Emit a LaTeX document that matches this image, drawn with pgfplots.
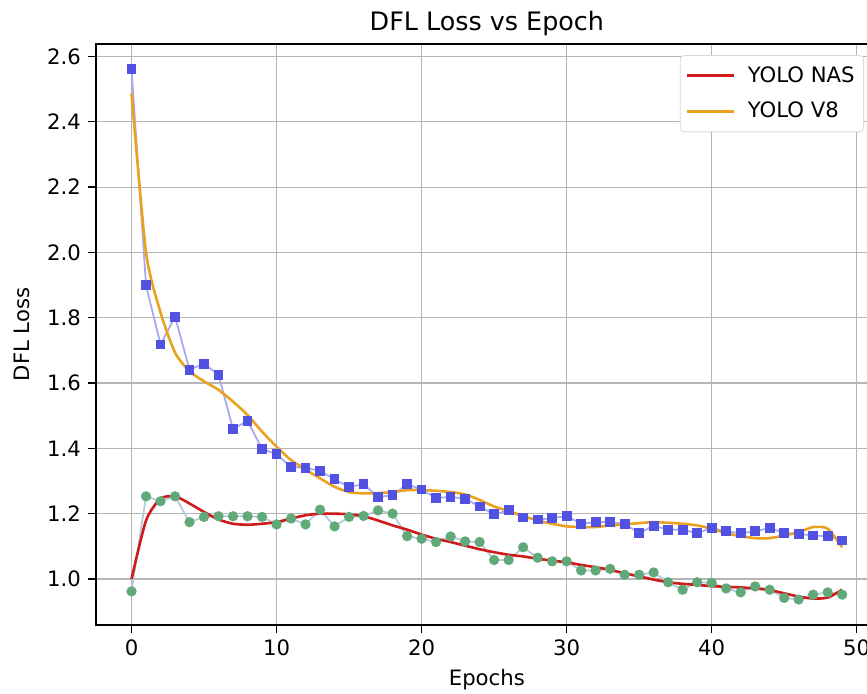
\documentclass[border=0pt]{standalone}
\usepackage{fontspec}
\setmainfont{DejaVu Sans}
\usepackage{pgfplots}
\pgfplotsset{compat=1.18}
\definecolor{bline}{HTML}{A9A9F2}
\definecolor{bmark}{HTML}{5252E2}
\definecolor{gline}{HTML}{B4CCD8}
\definecolor{gmark}{HTML}{62A97A}
\definecolor{nasred}{HTML}{D01A1A}
\definecolor{v8orange}{HTML}{EAA21E}

% raw points
\pgfplotstableread{
e v8 nas
0 2.562 0.962
1 1.899 1.253
2 1.718 1.238
3 1.803 1.253
4 1.641 1.174
5 1.659 1.190
6 1.625 1.192
7 1.459 1.192
8 1.484 1.192
9 1.398 1.190
10 1.382 1.167
11 1.343 1.185
12 1.340 1.167
13 1.331 1.212
14 1.305 1.161
15 1.282 1.190
16 1.290 1.193
17 1.251 1.210
18 1.256 1.200
19 1.290 1.131
20 1.274 1.123
21 1.248 1.113
22 1.251 1.130
23 1.246 1.115
24 1.222 1.113
25 1.198 1.058
26 1.210 1.058
27 1.188 1.097
28 1.182 1.065
29 1.186 1.054
30 1.193 1.054
31 1.169 1.026
32 1.174 1.026
33 1.174 1.031
34 1.169 1.013
35 1.140 1.013
36 1.163 1.020
37 1.151 0.990
38 1.151 0.967
39 1.140 0.990
40 1.156 0.988
41 1.146 0.971
42 1.140 0.959
43 1.146 0.977
44 1.156 0.967
45 1.141 0.942
46 1.138 0.937
47 1.133 0.952
48 1.131 0.959
49 1.118 0.952
}\rawtab

% smoothed curves
\pgfplotstableread{
e v8 nas
0 2.487 1.000
1 2.000 1.179
2 1.816 1.246
3 1.693 1.253
4 1.636 1.231
5 1.605 1.205
6 1.579 1.182
7 1.543 1.169
8 1.502 1.166
9 1.451 1.169
10 1.405 1.174
11 1.364 1.185
12 1.335 1.195
13 1.308 1.200
14 1.282 1.200
15 1.266 1.198
16 1.262 1.192
17 1.263 1.179
18 1.266 1.164
19 1.272 1.151
20 1.272 1.136
21 1.270 1.123
22 1.266 1.113
23 1.259 1.102
24 1.242 1.091
25 1.222 1.082
26 1.208 1.074
27 1.193 1.069
28 1.179 1.062
29 1.169 1.056
30 1.161 1.051
31 1.159 1.043
32 1.159 1.036
33 1.164 1.028
34 1.167 1.017
35 1.171 1.008
36 1.174 0.998
37 1.172 0.990
38 1.169 0.985
39 1.164 0.982
40 1.154 0.978
41 1.140 0.976
42 1.131 0.974
43 1.125 0.971
44 1.125 0.966
45 1.133 0.956
46 1.143 0.946
47 1.159 0.940
48 1.154 0.943
49 1.097 0.967
}\smtab

\begin{document}
\begin{tikzpicture}
\begin{axis}[name=ax,
  scale only axis, width=390.85pt, height=290.5pt,
  xmin=-2.45, xmax=51.45, ymin=0.859, ymax=2.638,
  xtick={0,10,20,30,40,50},
  ytick={1.0,1.2,1.4,1.6,1.8,2.0,2.2,2.4,2.6},
  yticklabel style={/pgf/number format/.cd,fixed,fixed zerofill,precision=1},
  /pgf/number format/assume math mode=true,
  tick align=outside, tick pos=left,
  major tick length=4pt,
  every tick/.style={black, line width=0.6pt},
  axis line style={black, line width=0.6pt},
  grid=major, grid style={gray!58, line width=0.55pt},
  tick label style={font=\fontsize{10.6}{12}\selectfont},
  label style={font=\fontsize{10.6}{12}\selectfont},
  xlabel={Epochs}, ylabel={DFL Loss},
  xlabel style={at={(axis description cs:0.5,-0.0947)}, anchor=center},
  ylabel style={at={(axis description cs:-0.0947,0.5)}, anchor=center},
  title={DFL Loss vs Epoch},
  title style={at={(axis description cs:0.5,1)}, anchor=base, yshift=1pt,
    font=\fontsize{12.7}{14}\selectfont},
  legend style={at={(1,1)}, anchor=north east, xshift=-6.85pt, yshift=-5.5pt,
    draw=gray!30, rounded corners=2pt, font=\fontsize{10.6}{12}\selectfont,
    row sep=4.5pt, inner xsep=2.5pt, inner ysep=3.5pt},
  legend cell align=left,
  legend image code/.code={\draw[#1, line width=1.3pt] (0pt,0pt) -- (23.5pt,0pt);
    \path (28pt,0pt);},
]
\addplot[bline, line width=0.9pt, mark=square*, mark size=2pt,
  mark options={draw=bmark, fill=bmark}, forget plot] table[x=e, y=v8] {\rawtab};
\addplot[gline, line width=0.9pt, mark=*, mark size=2.1pt,
  mark options={draw=gmark, fill=gmark}, forget plot] table[x=e, y=nas] {\rawtab};
\addplot[nasred, line width=1.3pt, smooth, tension=0.4] table[x=e, y=nas] {\smtab};
\addlegendentry{YOLO NAS}
\addplot[v8orange, line width=1.3pt, smooth, tension=0.4] table[x=e, y=v8] {\smtab};
\addlegendentry{YOLO V8}
\end{axis}
\pgfresetboundingbox
\path[use as bounding box] ([xshift=-48pt,yshift=-34pt]ax.south west)
  rectangle ([xshift=385.5pt,yshift=312.5pt]ax.south west);
\end{tikzpicture}
\end{document}
